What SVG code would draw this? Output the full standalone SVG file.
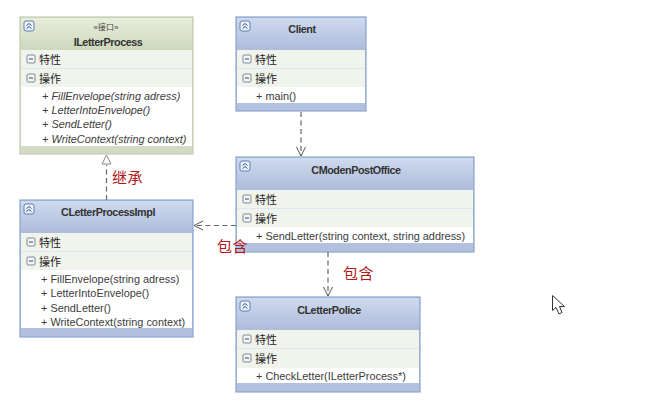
<svg xmlns="http://www.w3.org/2000/svg" width="667" height="402" viewBox="0 0 667 402">
<style>
text{font-family:"Liberation Sans","Noto Sans CJK SC",sans-serif;fill:#333}
.t{font-size:10.8px;font-weight:bold;text-anchor:middle;letter-spacing:-.45px;fill:#333}
.s{font-size:8px;text-anchor:middle;fill:#444}
.r{font-size:11px;fill:#222}
.m{font-size:10.9px;fill:#3c3c3c}
.i{font-style:italic}
.box{fill:#b3c0de;stroke:#8ba6cf;stroke-width:1.2}
.ibox{fill:#d2dcc4;stroke:#c3ccb0;stroke-width:1.2}
.row{fill:#f1f4ec}
.sep{fill:#dfe6f0}
.white{fill:#fff}
.tog{fill:#f5f6f8;stroke:#7a8a9a;stroke-width:1}
.dash{fill:none;stroke:#666;stroke-width:1.2;stroke-dasharray:5 3.5}
.head{fill:none;stroke:#555;stroke-width:1}
.note{font-size:15px;letter-spacing:.6px;fill:#b01818}
.col{fill:#eef2fb;stroke:#5f7fb5;stroke-width:1}
.cv{fill:none;stroke:#33508a;stroke-width:1}
</style>
<defs>
<linearGradient id="bg" x1="0" y1="0" x2="0" y2="1"><stop offset="0" stop-color="#cfdaee"/><stop offset="1" stop-color="#aebcdb"/></linearGradient>
<linearGradient id="gg" x1="0" y1="0" x2="0" y2="1"><stop offset="0" stop-color="#e8eddc"/><stop offset="1" stop-color="#cdd8bc"/></linearGradient>
<g id="collapse"><rect class="col" x="0" y="0" width="10" height="10" rx="2"/><path class="cv" d="M2.5 4.5 5 2.5 7.5 4.5M2.5 7.5 5 5.5 7.5 7.5"/></g>
<g id="minus"><rect class="tog" x="0" y="0" width="8" height="8" rx="1"/><path d="M2 4H6" stroke="#444" stroke-width="1"/></g>
</defs>

<g id="ILetterProcess">
<rect class="ibox" x="20" y="17" width="173" height="137"/>
<rect x="21" y="18" width="171" height="32" fill="url(#gg)"/>
<rect class="sep" x="21" y="68" width="171" height="1"/>
<rect class="row" x="21" y="50" width="171" height="18"/>
<rect class="row" x="21" y="69" width="171" height="18"/>
<rect class="white" x="21" y="87" width="171" height="59"/>
<use href="#collapse" x="24" y="21"/>
<text class="s" x="106" y="30">«接口»</text>
<text class="t" x="108" y="46">ILetterProcess</text>
<use href="#minus" x="27" y="55"/><text class="r" x="39" y="64">特性</text>
<use href="#minus" x="27" y="74"/><text class="r" x="39" y="83">操作</text>
<text class="m i" x="42" y="100">+ FillEnvelope(string adress)</text>
<text class="m i" x="42" y="114">+ LetterIntoEnvelope()</text>
<text class="m i" x="42" y="128">+ SendLetter()</text>
<text class="m i" x="42" y="143">+ WriteContext(string context)</text>
</g>

<g id="CLetterProcessImpl">
<rect class="box" x="20" y="200" width="173" height="137"/>
<rect x="21" y="201" width="171" height="32" fill="url(#bg)"/>
<rect class="sep" x="21" y="251" width="171" height="1"/>
<rect class="row" x="21" y="233" width="171" height="18"/>
<rect class="row" x="21" y="252" width="171" height="18"/>
<rect class="white" x="21" y="270" width="171" height="58"/>
<use href="#collapse" x="24" y="204"/>
<text class="t" x="108" y="216">CLetterProcessImpl</text>
<use href="#minus" x="27" y="238"/><text class="r" x="39" y="247">特性</text>
<use href="#minus" x="27" y="257"/><text class="r" x="39" y="266">操作</text>
<text class="m" x="41" y="283">+ FillEnvelope(string adress)</text>
<text class="m" x="41" y="297">+ LetterIntoEnvelope()</text>
<text class="m" x="41" y="312">+ SendLetter()</text>
<text class="m" x="41" y="326">+ WriteContext(string context)</text>
</g>

<g id="Client">
<rect class="box" x="236" y="17" width="130" height="94"/>
<rect x="237" y="18" width="128" height="32" fill="url(#bg)"/>
<rect class="sep" x="237" y="68" width="128" height="1"/>
<rect class="row" x="237" y="50" width="128" height="18"/>
<rect class="row" x="237" y="69" width="128" height="18"/>
<rect class="white" x="237" y="87" width="128" height="16"/>
<use href="#collapse" x="240" y="21"/>
<text class="t" x="302" y="33">Client</text>
<use href="#minus" x="243" y="55"/><text class="r" x="255" y="64">特性</text>
<use href="#minus" x="243" y="74"/><text class="r" x="255" y="83">操作</text>
<text class="m" x="256" y="100">+ main()</text>
</g>

<g id="CModenPostOffice">
<rect class="box" x="236" y="157" width="238" height="95"/>
<rect x="237" y="158" width="236" height="32" fill="url(#bg)"/>
<rect class="sep" x="237" y="208" width="236" height="1"/>
<rect class="row" x="237" y="190" width="236" height="18"/>
<rect class="row" x="237" y="209" width="236" height="18"/>
<rect class="white" x="237" y="227" width="236" height="16"/>
<use href="#collapse" x="240" y="161"/>
<text class="t" x="356" y="174">CModenPostOffice</text>
<use href="#minus" x="243" y="195"/><text class="r" x="255" y="204">特性</text>
<use href="#minus" x="243" y="214"/><text class="r" x="255" y="223">操作</text>
<text class="m" x="256" y="240">+ SendLetter(string context, string address)</text>
</g>

<g id="CLetterPolice">
<rect class="box" x="236" y="297" width="184" height="95"/>
<rect x="237" y="298" width="182" height="32" fill="url(#bg)"/>
<rect class="sep" x="237" y="348" width="182" height="1"/>
<rect class="row" x="237" y="330" width="182" height="18"/>
<rect class="row" x="237" y="349" width="182" height="19"/>
<rect class="white" x="237" y="368" width="182" height="15"/>
<use href="#collapse" x="240" y="301"/>
<text class="t" x="329" y="314">CLetterPolice</text>
<use href="#minus" x="243" y="335"/><text class="r" x="255" y="344">特性</text>
<use href="#minus" x="243" y="354"/><text class="r" x="255" y="363">操作</text>
<text class="m" x="256" y="380">+ CheckLetter(ILetterProcess*)</text>
</g>

<g id="connectors">
<path class="dash" d="M106.500 200V165"/>
<path d="M106.500 155 102 164H111Z" fill="#fff" stroke="#888" stroke-width="1"/>
<path class="dash" d="M301 112V156"/>
<path class="head" d="M296.500 147 301 156 305.500 147"/>
<path class="dash" d="M236 225.500H194"/>
<path class="head" d="M203 221 194 225.500 203 230"/>
<path class="dash" d="M328 252V296"/>
<path class="head" d="M323.500 287 328 296 332.500 287"/>
</g>

<g id="labels">
<text class="note" x="112" y="183">继承</text>
<text class="note" x="217" y="252">包含</text>
<text class="note" x="343" y="279">包含</text>
</g>

<path id="cursor" d="M552.500 295.500V310.500L556 307.500 559 314 562 312.500 559.500 306.500H564.500Z" fill="#fff" stroke="#333" stroke-width="1"/>
</svg>
